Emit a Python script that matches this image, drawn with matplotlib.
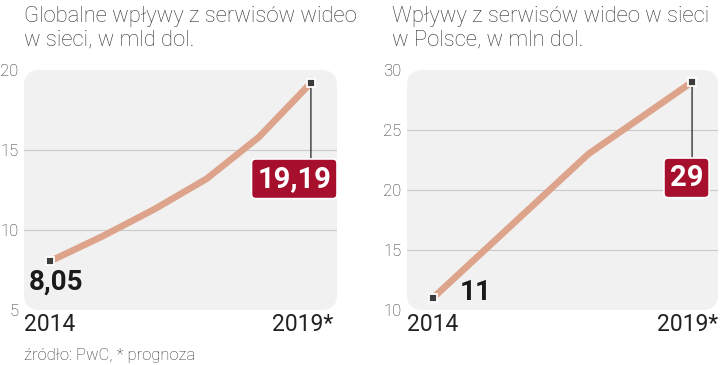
import matplotlib.pyplot as plt
import matplotlib.transforms as mtransforms
from matplotlib.patches import FancyBboxPatch

years = [2014, 2015, 2016, 2017, 2018, 2019]
global_values = [8.05, 9.6, 11.3, 13.2, 15.8, 19.19]
poland_values = [11, 15, 19, 23, 26, 29]
xtick_years = [2014, 2019]
xtick_labels = ['2014', '2019*']
global_yticks = [5, 10, 15, 20]
poland_yticks = [10, 15, 20, 25, 30]
global_title = 'Globalne wpływy z serwisów wideo\nw sieci, w mld dol.'
poland_title = 'Wpływy z serwisów wideo w sieci\nw Polsce, w mln dol.'
source_text = 'źródło: PwC, * prognoza'

LINE = '#dda48b'
RED = '#a6102c'
BG = '#f1f1f1'
GRID = '#c9c9c9'
TXT = '#333333'

plt.rcParams['font.family'] = ['Roboto', 'DejaVu Sans']

fig = plt.figure(figsize=(7.2, 3.65), dpi=100)


def draw_panel(ax, values, yticks, start_label, end_label, start_off, start_ha,
               box_dx, last_label_dx):
    ax.set_facecolor('none')
    w, h = ax.get_position().width * 720, ax.get_position().height * 365
    bg = FancyBboxPatch((0, 0), 1, 1, boxstyle='round,pad=0,rounding_size=0.05',
                        mutation_aspect=w / h, transform=ax.transAxes,
                        fc=BG, ec='none', zorder=0)
    ax.add_patch(bg)
    for t in yticks[1:-1]:
        ax.axhline(t, color=GRID, lw=0.8, zorder=1)
    ax.plot(years, values, color=LINE, lw=4.8, solid_capstyle='round', zorder=2)

    # connector from the last point down to the red box
    ax.annotate('', xy=(years[-1], values[-1]), xytext=(0, -56),
                textcoords='offset points',
                arrowprops=dict(arrowstyle='-', color='#222222', lw=0.9,
                                shrinkA=0, shrinkB=0), zorder=2)
    ax.plot([years[0], years[-1]], [values[0], values[-1]], ls='none', marker='s',
            ms=5.5, mfc='#3c3c3c', mec='white', mew=1.3, zorder=3)

    ax.set_xlim(2013.5, 2019.5)
    ax.set_ylim(yticks[0], yticks[-1])
    ax.set_yticks(yticks)
    ax.set_xticks(xtick_years)
    ax.set_xticklabels(xtick_labels)
    ax.tick_params(axis='y', length=0, pad=4, labelsize=12, labelcolor='#2a2a2a')
    ax.tick_params(axis='x', length=0, pad=2, labelsize=16.5, labelcolor='#222222')
    for lab in ax.get_yticklabels():
        lab.set_fontweight('light')
    last = ax.get_xticklabels()[-1]
    shift = mtransforms.ScaledTranslation(last_label_dx / 100, 0, fig.dpi_scale_trans)
    last.set_transform(last.get_transform() + shift)
    for s in ax.spines.values():
        s.set_visible(False)

    ax.annotate(start_label, xy=(years[0], values[0]), xytext=start_off,
                textcoords='offset points', ha=start_ha, va='center',
                fontsize=20, fontweight='bold', color='#1a1a1a', zorder=4)
    ax.annotate(end_label, xy=(years[-1], values[-1]), xytext=(box_dx, -69),
                textcoords='offset points', ha='center', va='center',
                fontsize=21, fontweight='bold', color='white', zorder=4,
                bbox=dict(boxstyle='round,pad=0.2,rounding_size=0.15', fc=RED,
                          ec='white', lw=1.2))


ax1 = fig.add_axes([24 / 720, 55 / 365, 313 / 720, 240 / 365])
draw_panel(ax1, global_values, global_yticks,
           f'{global_values[0]:.2f}'.replace('.', ','),
           f'{global_values[-1]:.2f}'.replace('.', ','),
           (4, -15), 'center', -12, -8)

ax2 = fig.add_axes([407 / 720, 55 / 365, 311 / 720, 240 / 365])
draw_panel(ax2, poland_values, poland_yticks,
           f'{poland_values[0]:d}', f'{poland_values[-1]:d}',
           (19, 4), 'left', -4, -4)

fig.text(24 / 720, 1 - 6 / 365, global_title, ha='left', va='top', fontsize=15.8,
         fontweight='light', color=TXT, linespacing=1.15)
fig.text(392 / 720, 1 - 6 / 365, poland_title, ha='left', va='top', fontsize=15.8,
         fontweight='light', color=TXT, linespacing=1.15)
fig.text(24 / 720, 1 - 363 / 365, source_text, ha='left', va='bottom', fontsize=12,
         fontweight='light', color=TXT)

fig.savefig('out.png', dpi=100)
